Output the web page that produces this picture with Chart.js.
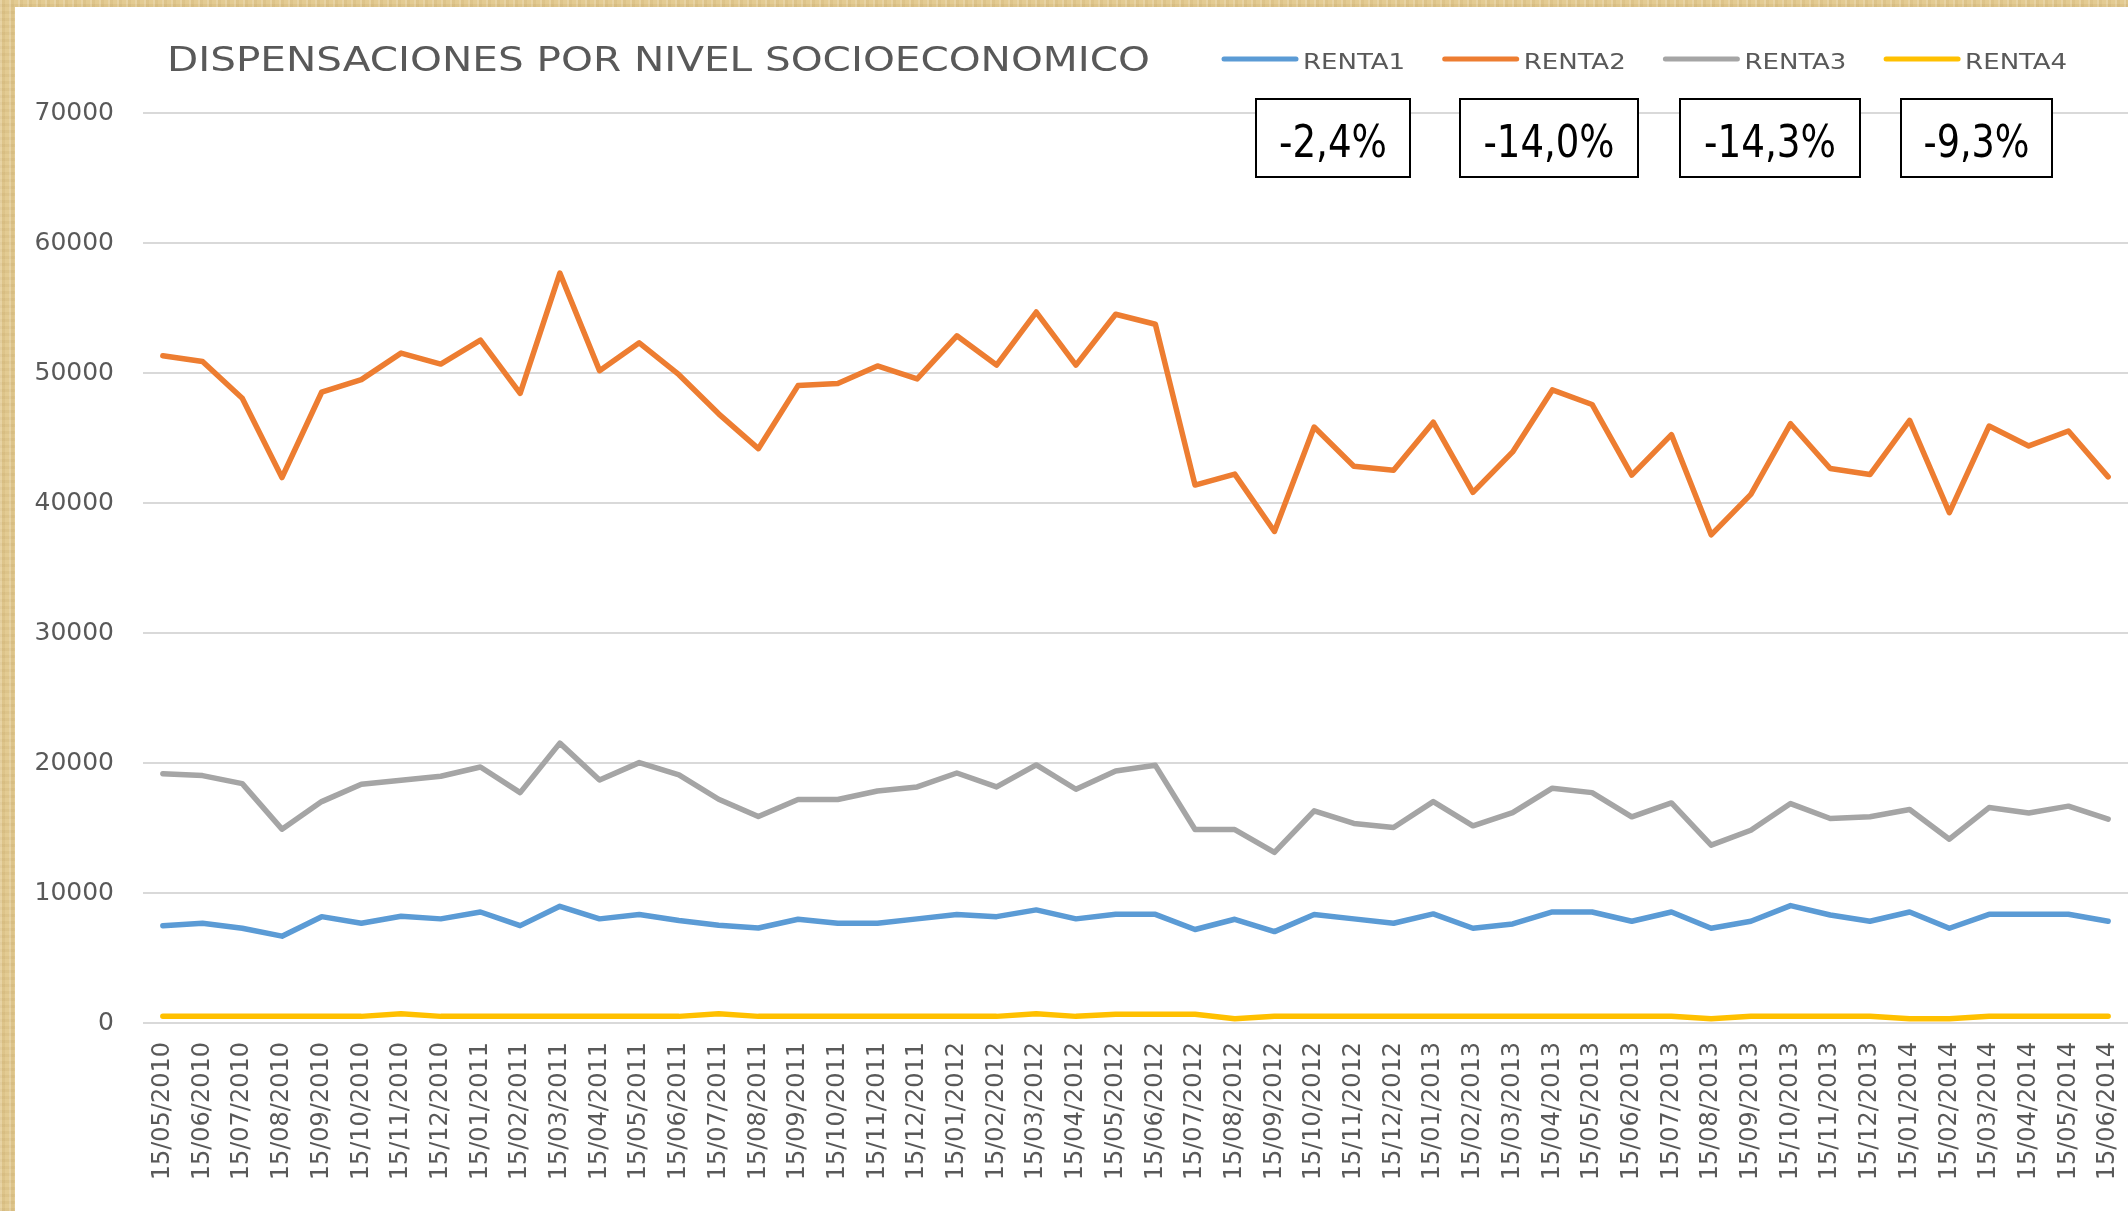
<!DOCTYPE html>
<html>
<head>
<meta charset="utf-8">
<script src="https://cdn.jsdelivr.net/npm/chart.js@4.4.1/dist/chart.umd.min.js"></script>
<style>
  html, body { margin: 0; padding: 0; }
  body {
    position: relative;
    width: 2128px; height: 1211px; overflow: hidden;
    background-color: #e3cb92;
    background-image:
      repeating-linear-gradient(90deg, rgba(255,255,255,0.16) 0 2px, rgba(150,110,40,0.08) 2px 5px, transparent 5px 9px),
      repeating-linear-gradient(0deg, rgba(150,110,40,0.08) 0 3px, transparent 3px 7px);
  }
  #wrap { position: absolute; left: 15px; top: 7px; width: 2113px; height: 1204px; background: #fff; }
</style>
</head>
<body>
<div id="wrap"><canvas id="chart"></canvas></div>
<script>
const months = [
  '15/05/2010', '15/06/2010', '15/07/2010', '15/08/2010', '15/09/2010', '15/10/2010', '15/11/2010', '15/12/2010',
  '15/01/2011', '15/02/2011', '15/03/2011', '15/04/2011', '15/05/2011', '15/06/2011', '15/07/2011', '15/08/2011',
  '15/09/2011', '15/10/2011', '15/11/2011', '15/12/2011', '15/01/2012', '15/02/2012', '15/03/2012', '15/04/2012',
  '15/05/2012', '15/06/2012', '15/07/2012', '15/08/2012', '15/09/2012', '15/10/2012', '15/11/2012', '15/12/2012',
  '15/01/2013', '15/02/2013', '15/03/2013', '15/04/2013', '15/05/2013', '15/06/2013', '15/07/2013', '15/08/2013',
  '15/09/2013', '15/10/2013', '15/11/2013', '15/12/2013', '15/01/2014', '15/02/2014', '15/03/2014', '15/04/2014',
  '15/05/2014', '15/06/2014'
];

const renta1 = [
  7490, 7670, 7290, 6680, 8180, 7670, 8210, 8010, 8540, 7490, 8980, 8010, 8340, 7880, 7520, 7310, 7980, 7670,
  7670, 8010, 8340, 8180, 8700, 8010, 8360, 8360, 7190, 7980, 7030, 8340, 8010, 7670, 8390, 7290,
  7620, 8540, 8540, 7830, 8540, 7290, 7830, 9030, 8310, 7830, 8540, 7290, 8360, 8360, 8360, 7830
];
const renta2 = [
  51330, 50890, 48060, 41960, 48520, 49490, 51530, 50690, 52530, 48440, 57680, 50180, 52320, 49870, 46860, 44180, 49030, 49200,
  50540, 49540, 52860, 50610, 54690, 50610, 54520, 53750, 41380, 42220, 37810, 45840, 42830, 42520, 46220, 40820,
  43930, 48700, 47580, 42140, 45260, 37550, 40660, 46100, 42650, 42190, 46350, 39260, 45920, 44390, 45540, 42010
];
const renta3 = [
  19180, 19030, 18410, 14910, 17030, 18360, 18670, 18980, 19690, 17720, 21530, 18700, 20030, 19080, 17210, 15880, 17190, 17190,
  17850, 18160, 19230, 18160, 19850, 17980, 19390, 19820, 14880, 14880, 13120, 16320, 15350, 15040, 17030, 15170,
  16190, 18060, 17720, 15860, 16930, 13680, 14830, 16880, 15730, 15860, 16420, 14140, 16570, 16160, 16680, 15680
];
const renta4 = [
  510, 510, 510, 510, 510, 510, 720, 510, 510, 510, 510, 510, 510, 510, 720, 510, 510, 510,
  510, 510, 510, 510, 720, 510, 670, 670, 670, 330, 510, 510, 510, 510, 510, 510,
  510, 510, 510, 510, 510, 330, 510, 510, 510, 510, 330, 330, 510, 510, 510, 510
];

const seriesNames = ['RENTA1', 'RENTA2', 'RENTA3', 'RENTA4'];
const seriesColors = ['#5b9bd5', '#ed7d31', '#a5a5a5', '#ffc000'];
const changes = ['-2,4%', '-14,0%', '-14,3%', '-9,3%'];
const chartTitle = 'DISPENSACIONES POR NIVEL SOCIOECONOMICO';
const yMin = 0, yMax = 70000, yStep = 10000;

const narrow = '"Liberation Sans Narrow", "DejaVu Sans Condensed", "DejaVu Sans", sans-serif';

function fitText(ctx, text, x, y, width) {
  const w = ctx.measureText(text).width;
  ctx.save();
  ctx.translate(x, y);
  ctx.scale(width / w, 1);
  ctx.fillText(text, 0, 0);
  ctx.restore();
}

// title, legend and the percentage boxes on top of the plot
const header = {
  id: 'header',
  afterDraw(chart) {
    const ctx = chart.ctx;
    ctx.save();
    ctx.textAlign = 'left';
    ctx.textBaseline = 'alphabetic';

    ctx.fillStyle = '#595959';
    ctx.font = '34px ' + narrow;
    fitText(ctx, chartTitle, 152, 64, 983);

    chart.data.datasets.forEach((ds, i) => {
      const x = 1209 + i * 220.7;
      ctx.strokeStyle = ds.borderColor;
      ctx.lineWidth = 5;
      ctx.lineCap = 'round';
      ctx.beginPath();
      ctx.moveTo(x, 52);
      ctx.lineTo(x + 72, 52);
      ctx.stroke();
      ctx.fillStyle = '#595959';
      ctx.font = '22px ' + narrow;
      fitText(ctx, ds.label, x + 79, 62, 102);
    });

    // [left, width, text width]
    const boxes = [[1241, 154, 108], [1445, 178, 131], [1665, 180, 132], [1886, 151, 106]];
    changes.forEach((txt, i) => {
      const [bx, bw, tw] = boxes[i];
      ctx.fillStyle = '#fff';
      ctx.fillRect(bx, 92, bw, 78);
      ctx.strokeStyle = '#000';
      ctx.lineWidth = 2;
      ctx.strokeRect(bx, 92, bw, 78);
      ctx.fillStyle = '#000';
      ctx.font = '45px ' + narrow;
      fitText(ctx, txt, bx + (bw - tw) / 2, 150, tw);
    });
    ctx.restore();
  }
};

const ctx = document.getElementById('chart').getContext('2d');
const allSeries = [renta1, renta2, renta3, renta4];

new Chart(ctx, {
  type: 'line',
  data: {
    labels: months,
    datasets: allSeries.map((d, i) => ({
      label: seriesNames[i],
      data: d,
      borderColor: seriesColors[i],
      backgroundColor: seriesColors[i],
      borderWidth: 5.5,
      borderCapStyle: 'round',
      borderJoinStyle: 'round',
      pointRadius: 0,
      tension: 0,
    }))
  },
  options: {
    responsive: true,
    maintainAspectRatio: false,
    animation: false,
    layout: { padding: { top: 106, left: 0, right: 0, bottom: 0 } },
    plugins: {
      legend: { display: false },
      tooltip: { enabled: false },
    },
    scales: {
      x: {
        offset: true,
        grid: { display: false, drawTicks: false },
        border: { display: false },
        ticks: {
          autoSkip: false,
          maxRotation: 90,
          minRotation: 90,
          padding: 19,
          color: '#595959',
          font: { family: 'DejaVu Sans', size: 24 },
        },
        afterFit: s => {
          s.height = 188;
          s.paddingLeft = 0;
          s.paddingRight = 0;
        },
      },
      y: {
        min: yMin,
        max: yMax,
        grid: { color: '#d9d9d9', lineWidth: 2, drawTicks: false },
        border: { display: false },
        ticks: {
          stepSize: yStep,
          padding: 29,
          color: '#595959',
          font: { family: 'DejaVu Sans', size: 25 },
          callback: v => String(v),
        },
        afterFit: s => { s.width = 128; },
      }
    }
  },
  plugins: [header]
});
</script>
</body>
</html>
